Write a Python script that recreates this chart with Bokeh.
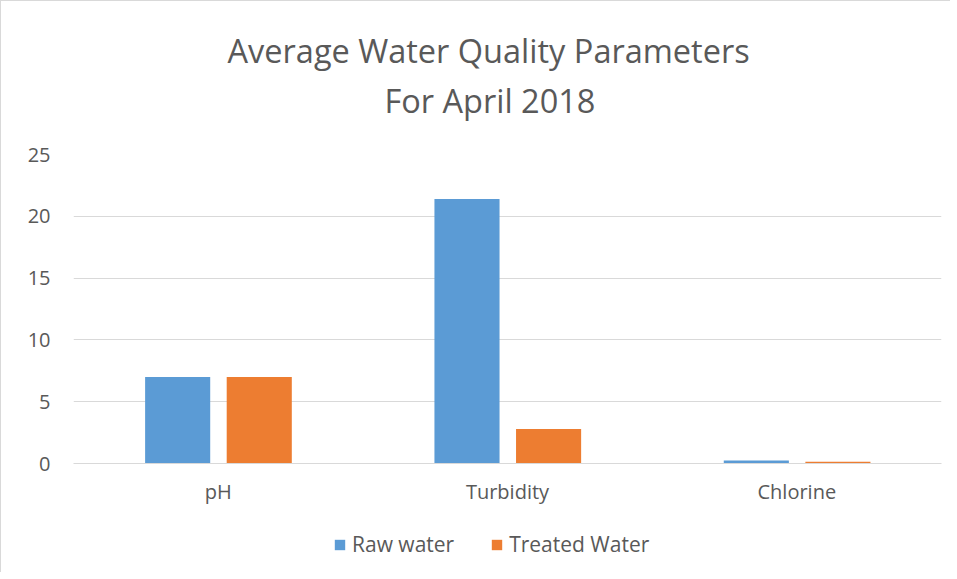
from bokeh.plotting import figure
from bokeh.layouts import column
from bokeh.models import ColumnDataSource, FactorRange, Range1d, Legend, LegendItem, FixedTicker, Title
from bokeh.transform import dodge
from bokeh.embed import file_html
from bokeh.resources import INLINE

categories = ["pH", "Turbidity", "Chlorine"]
raw_water = [7.0, 21.4, 0.25]
treated_water = [7.0, 2.8, 0.15]
y_ticks = [0, 5, 10, 15, 20, 25]
title_lines = ["Average Water Quality Parameters", "For April 2018"]
series_names = ["Raw water", "Treated Water"]
series_colors = ["#5B9BD5", "#ED7D31"]

FONT = "Open Sans"
TXT = "#595959"
GRID = "#D9D9D9"

src = ColumnDataSource(dict(cat=categories, raw=raw_water, treated=treated_water))

p = figure(width=949, height=520, x_range=FactorRange(*categories, range_padding=0),
           y_range=Range1d(0, 25), output_backend="svg", toolbar_location=None,
           min_border_left=72, min_border_right=9, min_border_top=153, min_border_bottom=58)
p.outline_line_color = None

p.vbar(x=dodge("cat", -0.14, range=p.x_range), top="raw", width=0.225, source=src,
       fill_color=series_colors[0], line_color=None)
p.vbar(x=dodge("cat", 0.142, range=p.x_range), top="treated", width=0.225, source=src,
       fill_color=series_colors[1], line_color=None)

p.yaxis.ticker = FixedTicker(ticks=y_ticks)
p.yaxis.axis_line_color = None
p.yaxis.major_tick_line_color = None
p.yaxis.minor_tick_line_color = None
p.yaxis.major_label_standoff = 17
p.yaxis.major_label_text_font = FONT
p.yaxis.major_label_text_font_size = "20px"
p.yaxis.major_label_text_color = TXT

p.xaxis.axis_line_color = GRID
p.xaxis.axis_line_width = 1
p.xaxis.major_tick_line_color = None
p.xaxis.minor_tick_line_color = None
p.xaxis.major_label_standoff = 8
p.xaxis.major_label_text_font = FONT
p.xaxis.major_label_text_font_size = "20px"
p.xaxis.major_label_text_color = TXT

p.xgrid.grid_line_color = None
p.ygrid.grid_line_color = GRID
p.ygrid.grid_line_width = 1

# spacer between frame and title block
p.add_layout(Title(text=" ", text_font_size="1px", standoff=28), "above")
p.add_layout(Title(text=title_lines[1], align="left", offset=311, text_font=FONT,
                   text_font_size="32.5px", text_font_style="normal", text_color=TXT,
                   standoff=2), "above")
p.add_layout(Title(text=title_lines[0], align="left", offset=154, text_font=FONT,
                   text_font_size="32.5px", text_font_style="normal", text_color=TXT,
                   standoff=4), "above")

# legend strip below the chart
lg = figure(width=949, height=51, x_range=Range1d(0, 1), y_range=Range1d(0, 1),
            output_backend="svg", toolbar_location=None, x_axis_type=None, y_axis_type=None,
            min_border=0)
lg.outline_line_color = None
lg.xgrid.grid_line_color = None
lg.ygrid.grid_line_color = None
nan = float("nan")
items = []
for name, col in zip(series_names, series_colors):
    rr = lg.quad(left=[nan], right=[nan], top=[nan], bottom=[nan], fill_color=col, line_color=None)
    items.append(LegendItem(label=name, renderers=[rr]))
legend = Legend(items=items, orientation="horizontal", location=(260, 14), border_line_color=None,
                background_fill_alpha=0, label_text_font=FONT, label_text_font_size="21px",
                label_text_color=TXT, glyph_width=13, glyph_height=13, spacing=36,
                label_standoff=6, margin=0, padding=0)
lg.add_layout(legend, "center")

layout = column(p, lg, spacing=0)
layout.styles = {"border-left": "1px solid #D9D9D9", "border-top": "1px solid #D9D9D9"}

open("out.html", "w").write(file_html(layout, INLINE))
